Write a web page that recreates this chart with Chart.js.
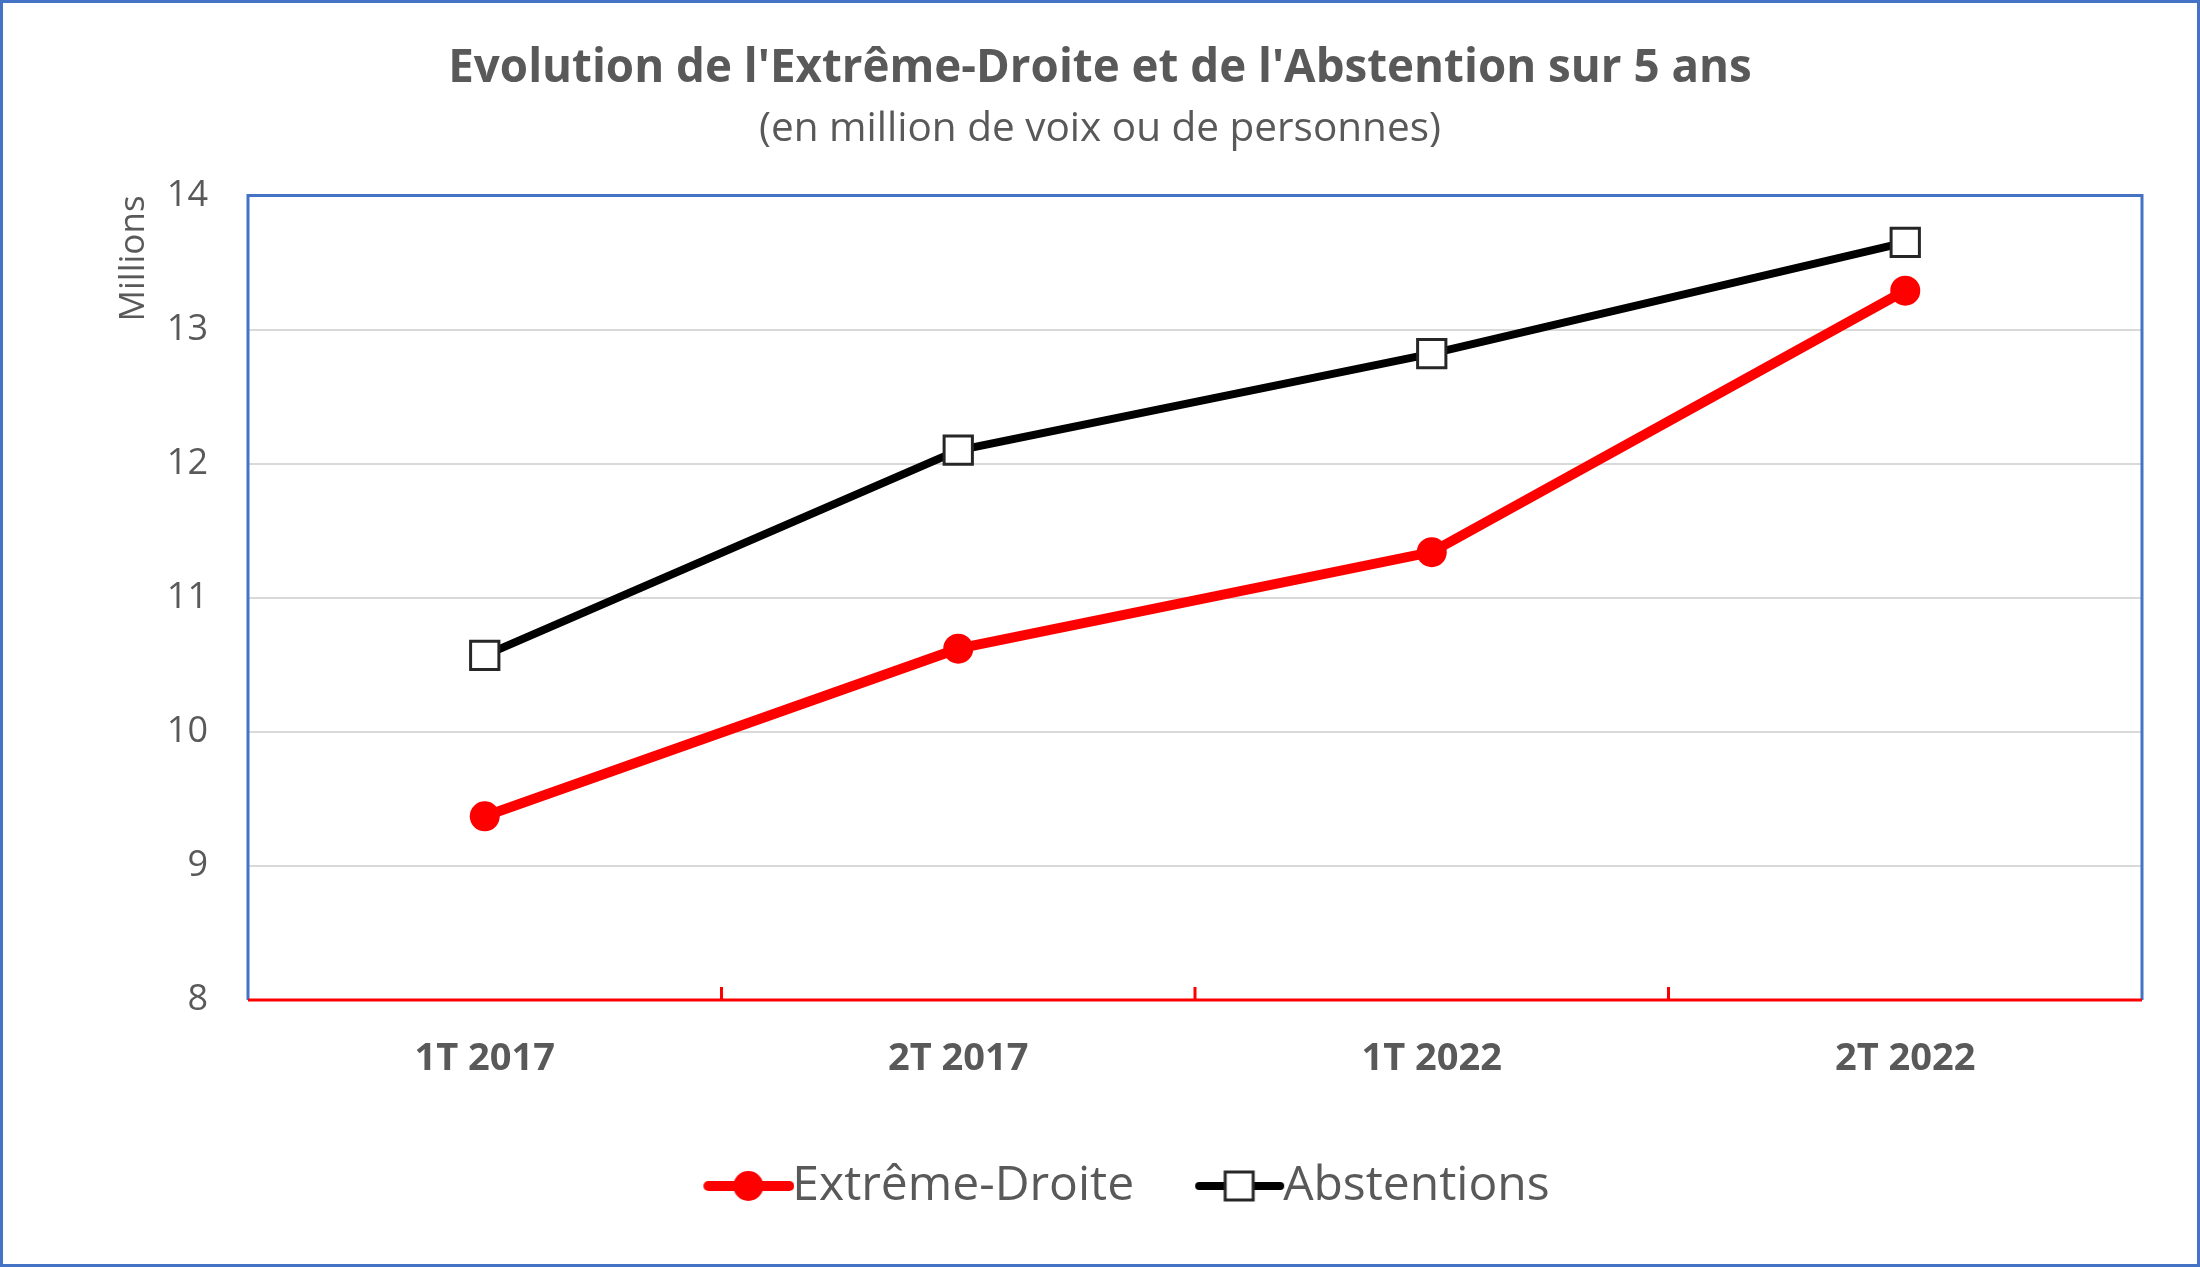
<!DOCTYPE html>
<html>
<head>
<meta charset="utf-8">
<script src="https://cdn.jsdelivr.net/npm/chart.js@4.4.1/dist/chart.umd.min.js"></script>
<style>
  body { margin: 0; background: #fff; }
  #wrap { width: 2200px; height: 1267px; box-sizing: border-box; border: 3px solid #4472c4; }
  canvas { display: block; }
</style>
</head>
<body>
<div id="wrap"><canvas id="chart" width="2194" height="1261" style="width:2194px;height:1261px"></canvas></div>
<script>
// donnees (en millions)
var tours = ['1T 2017', '2T 2017', '1T 2022', '2T 2022']
var extremeDroite = [9.37, 10.62, 11.34, 13.29]
var abstentions = [10.57, 12.10, 12.82, 13.65]
var yTicks = [8, 9, 10, 11, 12, 13, 14]

var gris = '#595959'
var police = 'Open Sans'

// icone de legende : trait + marqueur (decale a droite pour coller au texte)
function iconeLegende(couleur, epaisseur, carre) {
    var c = document.createElement('canvas')
    c.width = 170
    c.height = 44
    var ctx = c.getContext('2d')
    ctx.strokeStyle = couleur
    ctx.lineWidth = epaisseur
    ctx.lineCap = 'round'
    ctx.beginPath()
    ctx.moveTo(84, 22)
    ctx.lineTo(165, 22)
    ctx.stroke()
    if (carre) {
        ctx.fillStyle = '#fff'
        ctx.strokeStyle = '#262626'
        ctx.lineWidth = 3
        ctx.fillRect(110, 8, 28, 28)
        ctx.strokeRect(110, 8, 28, 28)
    } else {
        ctx.fillStyle = couleur
        ctx.beginPath()
        ctx.arc(124, 22, 15, 0, Math.PI * 2)
        ctx.fill()
    }
    return c
}

// cadre du graphique : bleu en haut/gauche/droite, axe rouge en bas
var cadre = {
    id: 'cadre',
    beforeDatasetsDraw: function (chart) {
        var a = chart.chartArea
        var ctx = chart.ctx
        var x = chart.scales.x
        ctx.save()
        ctx.strokeStyle = '#4472c4'
        ctx.lineWidth = 3
        ctx.beginPath()
        ctx.moveTo(a.left, a.bottom)
        ctx.lineTo(a.left, a.top)
        ctx.lineTo(a.right, a.top)
        ctx.lineTo(a.right, a.bottom)
        ctx.stroke()
        ctx.strokeStyle = '#ff0000'
        ctx.beginPath()
        ctx.moveTo(a.left, a.bottom)
        ctx.lineTo(a.right, a.bottom)
        for (var i = 0; i < tours.length - 1; i++) {
            var px = (x.getPixelForValue(i) + x.getPixelForValue(i + 1)) / 2
            ctx.moveTo(px, a.bottom)
            ctx.lineTo(px, a.bottom - 13)
        }
        ctx.stroke()
        ctx.restore()
    }
}

new Chart(document.getElementById('chart'), {
    type: 'line',
    data: {
        labels: tours,
        datasets: [
            {
                label: 'Extrême-Droite',
                data: extremeDroite,
                borderColor: '#ff0000',
                backgroundColor: '#ff0000',
                borderWidth: 10,
                pointStyle: 'circle',
                pointRadius: 15,
                pointHoverRadius: 15,
                pointBackgroundColor: '#ff0000',
                pointBorderWidth: 0,
                tension: 0
            },
            {
                label: 'Abstentions',
                data: abstentions,
                borderColor: '#000000',
                backgroundColor: '#ffffff',
                borderWidth: 8,
                pointStyle: 'rect',
                pointRadius: 20,
                pointHoverRadius: 20,
                pointBackgroundColor: '#ffffff',
                pointBorderColor: '#262626',
                pointBorderWidth: 3,
                tension: 0
            }
        ]
    },
    plugins: [cadre],
    options: {
        responsive: false,
        animation: false,
        layout: { padding: { left: 0, right: 0, top: 0, bottom: 44 } },
        plugins: {
            title: {
                display: true,
                text: "Evolution de l'Extrême-Droite et de l'Abstention sur 5 ans",
                color: gris,
                font: { family: police, size: 45.7, weight: 'bold' },
                padding: { top: 39, bottom: 1 }
            },
            subtitle: {
                display: true,
                text: '(en million de voix ou de personnes)',
                color: gris,
                font: { family: police, size: 40.5 },
                padding: { top: 7, bottom: 42 }
            },
            legend: {
                position: 'bottom',
                labels: {
                    color: gris,
                    font: { family: police, size: 48 },
                    usePointStyle: true,
                    pointStyleWidth: 118,
                    padding: 7,
                    generateLabels: function (chart) {
                        return [
                            { text: 'Extrême-Droite', pointStyle: iconeLegende('#ff0000', 10, false), fontColor: gris, datasetIndex: 0, lineWidth: 0, strokeStyle: 'transparent', fillStyle: 'transparent' },
                            { text: 'Abstentions', pointStyle: iconeLegende('#000000', 8, true), fontColor: gris, datasetIndex: 1, lineWidth: 0, strokeStyle: 'transparent', fillStyle: 'transparent' }
                        ]
                    }
                }
            },
            tooltip: { enabled: false }
        },
        scales: {
            x: {
                offset: true,
                afterFit: function (s) { s.height = 155 },
                grid: { display: false },
                border: { display: false },
                ticks: {
                    color: gris,
                    font: { family: police, size: 38, weight: 'bold' },
                    padding: 28
                }
            },
            y: {
                min: 8,
                max: 14,
                afterBuildTicks: function (s) {
                    s.ticks = yTicks.map(function (v) { return { value: v } })
                },
                afterFit: function (s) { s.width = 245 },
                grid: { color: '#d9d9d9', lineWidth: 2, drawTicks: false },
                border: { display: false },
                ticks: {
                    color: gris,
                    font: { family: police, size: 36 },
                    padding: 40
                },
                title: {
                    display: true,
                    text: 'Millions',
                    align: 'end',
                    color: gris,
                    font: { family: police, size: 35 },
                    padding: { top: 110, bottom: 0 }
                }
            },
            // marge droite (axe vide)
            y2: {
                position: 'right',
                min: 8,
                max: 14,
                afterFit: function (s) { s.width = 55 },
                grid: { display: false },
                border: { display: false },
                ticks: { display: false }
            }
        }
    }
});
</script>
</body>
</html>
